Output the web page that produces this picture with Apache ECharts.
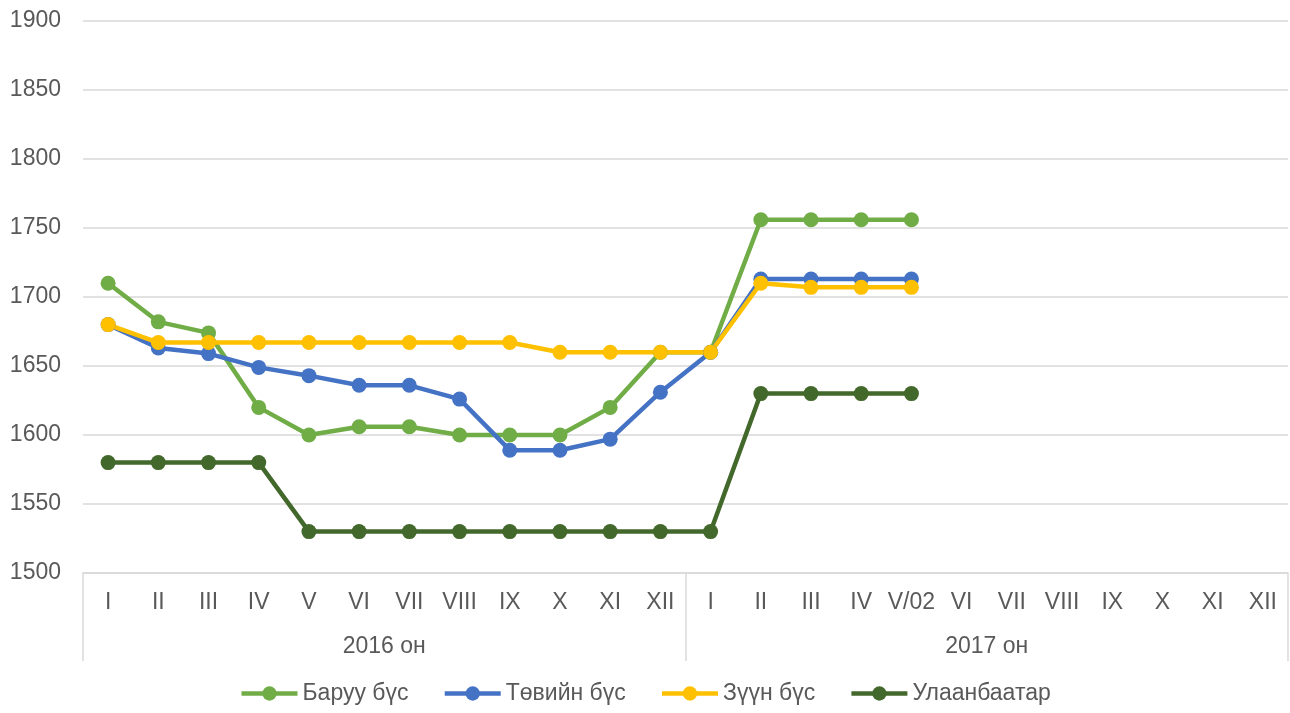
<!DOCTYPE html>
<html>
<head>
<meta charset="utf-8">
<script src="https://cdn.jsdelivr.net/npm/echarts@6/dist/echarts.min.js"></script>
<style>
  html, body { margin: 0; padding: 0; background: #fff; }
  #chart { width: 1290px; height: 713px; }
</style>
</head>
<body>
<div id="chart"></div>
<script>
var months = ['I', 'II', 'III', 'IV', 'V', 'VI', 'VII', 'VIII', 'IX', 'X', 'XI', 'XII',
  'I', 'II', 'III', 'IV', 'V/02', 'VI', 'VII', 'VIII', 'IX', 'X', 'XI', 'XII'];
var years = ['2016 он', '2017 он'];

var baruun = [1710, 1682, 1674, 1620, 1600, 1606, 1606, 1600, 1600, 1600, 1620, 1660,
  1660, 1756, 1756, 1756, 1756, null, null, null, null, null, null, null];
var tuv = [1680, 1663, 1659, 1649, 1643, 1636, 1636, 1626, 1589, 1589, 1597, 1631,
  1660, 1713, 1713, 1713, 1713, null, null, null, null, null, null, null];
var zuun = [1680, 1667, 1667, 1667, 1667, 1667, 1667, 1667, 1667, 1660, 1660, 1660,
  1660, 1710, 1707, 1707, 1707, null, null, null, null, null, null, null];
var ub = [1580, 1580, 1580, 1580, 1530, 1530, 1530, 1530, 1530, 1530, 1530, 1530,
  1530, 1630, 1630, 1630, 1630, null, null, null, null, null, null, null];

var seriesNames = ['Баруу бүс', 'Төвийн бүс', 'Зүүн бүс', 'Улаанбаатар'];
var colors = ['#70ad47', '#4472c4', '#ffc000', '#43682b'];

var font = 'Liberation Sans, Arial, sans-serif';
var textColor = '#595959';
var fs = 23;

function makeLine(name, data, color) {
  return {
    name: name,
    type: 'line',
    data: data,
    xAxisIndex: 0,
    symbol: 'circle',
    symbolSize: 15,
    lineStyle: { width: 4.5, color: color },
    itemStyle: { color: color }
  };
}

var chart = echarts.init(document.getElementById('chart'));
chart.setOption({
  animation: false,
  color: colors,
  grid: { left: 83, right: 2, top: 21, bottom: 140 },
  legend: {
    bottom: 3,
    itemWidth: 56,
    itemHeight: 18,
    itemGap: 34,
    lineStyle: { width: 4.5 },
    textStyle: { fontFamily: font, fontSize: fs, color: textColor }
  },
  xAxis: [
    {
      type: 'category',
      data: months,
      position: 'bottom',
      axisLine: { lineStyle: { color: '#d9d9d9', width: 1.5 } },
      axisTick: { show: false },
      axisLabel: { interval: 0, margin: 18, fontFamily: font, fontSize: fs, color: textColor }
    },
    {
      type: 'category',
      data: years,
      position: 'bottom',
      axisLine: { show: false },
      axisTick: { show: true, length: 88, lineStyle: { color: '#d9d9d9', width: 1.5 } },
      axisLabel: { margin: 62, fontFamily: font, fontSize: fs, color: textColor },
      splitLine: { show: false }
    }
  ],
  yAxis: {
    type: 'value',
    min: 1500,
    max: 1900,
    interval: 50,
    axisLine: { show: false },
    axisTick: { show: false },
    axisLabel: {
      margin: 22, fontFamily: font, fontSize: fs, color: textColor,
      formatter: function (v) { return String(v); }
    },
    splitLine: { lineStyle: { color: '#d9d9d9', width: 1.5 } }
  },
  series: [
    makeLine(seriesNames[0], baruun, colors[0]),
    makeLine(seriesNames[1], tuv, colors[1]),
    makeLine(seriesNames[2], zuun, colors[2]),
    makeLine(seriesNames[3], ub, colors[3])
  ]
});
</script>
</body>
</html>
